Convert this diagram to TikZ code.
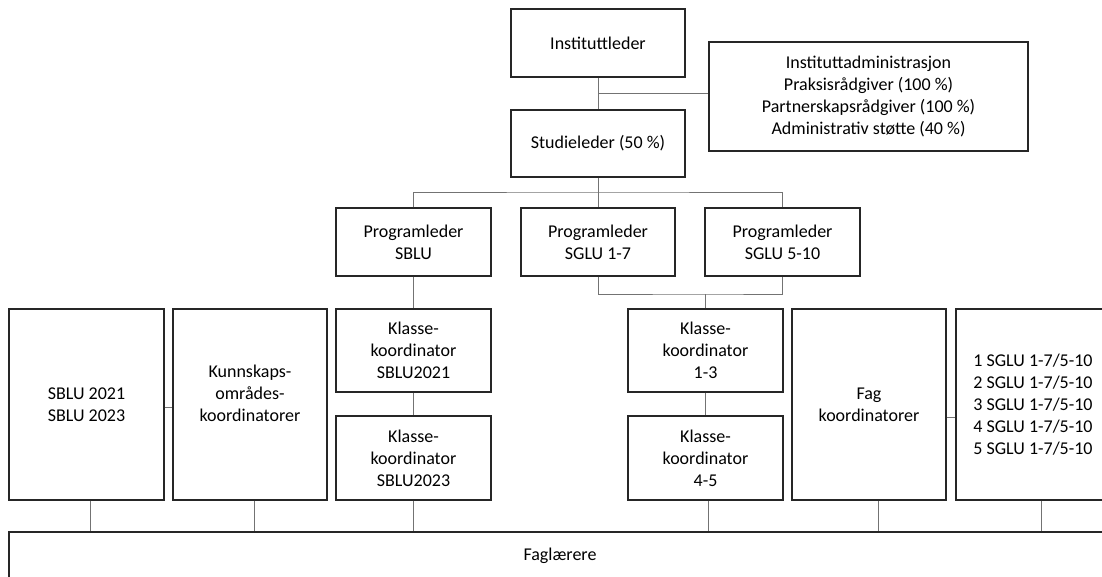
\documentclass[tikz,border=0pt]{standalone}
\usepackage{fontspec}
\setmainfont{Carlito}
\begin{document}
\begin{tikzpicture}[x=1pt,y=-1pt,
  box/.style={draw=black!85,line width=1.1pt,fill=white,inner sep=0pt,align=center,
    font=\fontsize{18}{22}\selectfont},
  conn/.style={draw=black!55,line width=0.9pt}]
\useasboundingbox (0,0) rectangle (1102,577);
\clip (0,0) rectangle (1102,577);
% top
\node[box,minimum width=174pt,minimum height=68pt] (inst) at (598,43) {Instituttleder};
\node[box,minimum width=319pt,minimum height=109pt] (admin) at (868.5,96.5)
  {Instituttadministrasjon\\Praksisrådgiver (100 \%)\\Partnerskapsrådgiver (100 \%)\\Administrativ støtte (40 \%)};
\node[box,minimum width=174pt,minimum height=67pt] (stud) at (598,143.5) {Studieleder (50 \%)};
% programledere
\node[box,minimum width=155pt,minimum height=68pt] (pl1) at (413.5,242) {Programleder\\SBLU};
\node[box,minimum width=154pt,minimum height=68pt] (pl2) at (598,242) {Programleder\\SGLU 1-7};
\node[box,minimum width=155pt,minimum height=68pt] (pl3) at (782.5,242) {Programleder\\SGLU 5-10};
% row 3
\node[box,minimum width=155pt,minimum height=191pt] (sblu) at (86.5,404.5) {SBLU 2021\\SBLU 2023};
\node[box,minimum width=154pt,minimum height=191pt] (kunn) at (250,404.5) {Kunnskaps-\\områdes-\\koordinatorer\\~};
\node[box,minimum width=155pt,minimum height=83pt] (k21) at (413.5,350.5) {Klasse-\\koordinator\\SBLU2021};
\node[box,minimum width=155pt,minimum height=84pt] (k23) at (413.5,458) {Klasse-\\koordinator\\SBLU2023};
\node[box,minimum width=155pt,minimum height=83pt] (k13) at (705.5,350.5) {Klasse-\\koordinator\\1-3};
\node[box,minimum width=155pt,minimum height=84pt] (k45) at (705.5,458) {Klasse-\\koordinator\\4-5};
\node[box,minimum width=154pt,minimum height=191pt] (fag) at (869,404.5) {Fag\\koordinatorer};
\node[box,minimum width=154pt,minimum height=191pt] (list) at (1033,404.5)
  {1 SGLU 1-7/5-10\\2 SGLU 1-7/5-10\\3 SGLU 1-7/5-10\\4 SGLU 1-7/5-10\\5 SGLU 1-7/5-10};
% faglaerere
\node[box,minimum width=1102pt,minimum height=48pt] (fl) at (560,556) {Faglærere};
% connectors
\coordinate (j1) at (598,93);
\draw[conn] (inst.south) -- (stud.north);
\draw[conn] (j1) -- (j1 -| admin.west);
\coordinate (bus1) at (598,192);
\draw[conn] (stud.south) -- (pl2.north);
\draw[conn] (pl1.north) |- (bus1) -| (pl3.north);
\coordinate (bus2) at (705.5,294);
\draw[conn] (pl2.south) |- (bus2) -| (pl3.south);
\draw[conn] (bus2) -- (k13.north);
\draw[conn] (pl1.south) -- (k21.north);
\draw[conn] (k21.south) -- (k23.north);
\draw[conn] (k13.south) -- (k45.north);
\draw[conn] ([yshift=-3pt]sblu.east) -- ([yshift=-3pt]kunn.west);
\draw[conn] ([yshift=-12.5pt]fag.east) -- ([yshift=-12.5pt]list.west);
\draw[conn] ([xshift=3.5pt]sblu.south) -- ([xshift=3.5pt]sblu.south |- fl.north);
\draw[conn] ([xshift=4pt]kunn.south) -- ([xshift=4pt]kunn.south |- fl.north);
\draw[conn] (k23.south) -- (k23.south |- fl.north);
\draw[conn] ([xshift=2.5pt]k45.south) -- ([xshift=2.5pt]k45.south |- fl.north);
\draw[conn] ([xshift=9pt]fag.south) -- ([xshift=9pt]fag.south |- fl.north);
\draw[conn] ([xshift=8pt]list.south) -- ([xshift=8pt]list.south |- fl.north);
\end{tikzpicture}
\end{document}
